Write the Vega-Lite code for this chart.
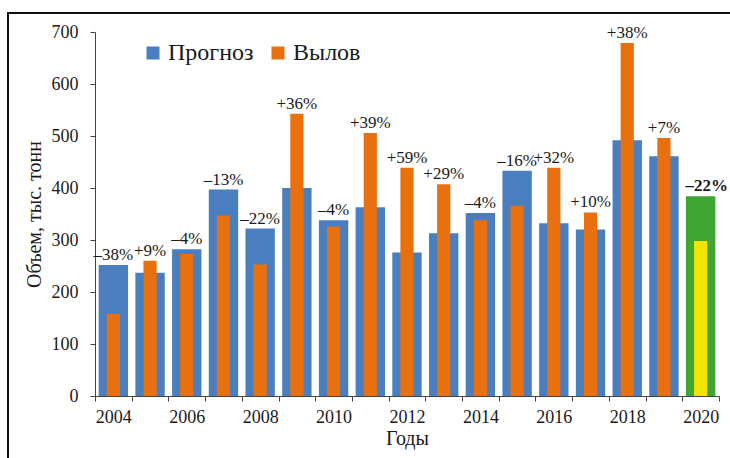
{
  "$schema": "https://vega.github.io/schema/vega-lite/v6.json",
  "autosize": {"type": "none"},
  "padding": {"left": 8, "top": 13, "right": 0, "bottom": 0},
  "width": 732,
  "height": 460,
  "background": "white",
  "config": {
    "font": "Liberation Serif",
    "view": {"stroke": "#111", "strokeWidth": 2, "fill": "white"},
    "axis": {"labelFont": "Liberation Serif", "titleFont": "Liberation Serif", "labelColor": "#1a1a1a", "titleColor": "#1a1a1a", "domainColor": "#444", "tickColor": "#444", "grid": false}
  },
  "data": {
    "values": [
      {"year": "2004", "Прогноз": 252, "Вылов": 158, "label": "–38%"},
      {"year": "2005", "Прогноз": 237, "Вылов": 260, "label": "+9%"},
      {"year": "2006", "Прогноз": 282, "Вылов": 273, "label": "–4%"},
      {"year": "2007", "Прогноз": 397, "Вылов": 347, "label": "–13%"},
      {"year": "2008", "Прогноз": 322, "Вылов": 253, "label": "–22%"},
      {"year": "2009", "Прогноз": 400, "Вылов": 543, "label": "+36%"},
      {"year": "2010", "Прогноз": 338, "Вылов": 326, "label": "–4%"},
      {"year": "2011", "Прогноз": 363, "Вылов": 506, "label": "+39%"},
      {"year": "2012", "Прогноз": 276, "Вылов": 439, "label": "+59%"},
      {"year": "2013", "Прогноз": 313, "Вылов": 407, "label": "+29%"},
      {"year": "2014", "Прогноз": 352, "Вылов": 338, "label": "–4%"},
      {"year": "2015", "Прогноз": 433, "Вылов": 366, "label": "–16%"},
      {"year": "2016", "Прогноз": 332, "Вылов": 439, "label": "+32%"},
      {"year": "2017", "Прогноз": 320, "Вылов": 353, "label": "+10%"},
      {"year": "2018", "Прогноз": 492, "Вылов": 679, "label": "+38%"},
      {"year": "2019", "Прогноз": 461, "Вылов": 496, "label": "+7%"},
      {"year": "2020", "Прогноз": 384, "Вылов": 298, "label": "–22%"}
    ]
  },
  "transform": [{"fold": ["Прогноз", "Вылов"], "as": ["series", "value"]}],
  "encoding": {
    "x": {
      "field": "year", "type": "ordinal",
      "scale": {"type": "band", "range": [87, 711], "paddingInner": 0, "paddingOuter": 0},
      "axis": {
        "title": "Годы", "titleFontSize": 20, "titleFontWeight": "normal", "titlePadding": 2,
        "labelFontSize": 18, "labelAngle": 0, "labelPadding": 7,
        "tickBand": "extent", "tickSize": 5, "offset": -77,
        "labelExpr": "parseInt(datum.value) % 2 === 0 ? datum.label : ''"
      }
    }
  },
  "layer": [
    {
      "transform": [{"filter": "datum.series === 'Прогноз'"}],
      "mark": {"type": "bar", "width": {"band": 0.8}},
      "encoding": {
        "y": {
          "field": "value", "type": "quantitative", "title": "Объем, тыс. тонн",
          "scale": {"domain": [0, 700], "range": [383, 19], "nice": false},
          "axis": {
            "title": "Объем, тыс. тонн", "titleFontSize": 20, "titleFontWeight": "normal", "titlePadding": 7,
            "labelFontSize": 18, "labelPadding": 12, "tickSize": 5, "offset": -87,
            "values": [0, 100, 200, 300, 400, 500, 600, 700]
          }
        },
        "color": {
          "condition": {"test": "datum.year === '2020'", "value": "#3fa635"},
          "field": "series", "type": "nominal",
          "scale": {"domain": ["Прогноз", "Вылов"], "range": ["#4a7ebf", "#e8700f"]},
          "legend": {
            "title": null, "orient": "none", "legendX": 133, "legendY": 28, "direction": "horizontal",
            "symbolType": "square", "symbolSize": 169, "symbolStrokeWidth": 0,
            "labelFont": "Liberation Serif", "labelFontSize": 24, "labelColor": "#1a1a1a",
            "labelOffset": 3, "columnPadding": 12, "padding": 0
          }
        }
      }
    },
    {
      "transform": [{"filter": "datum.series === 'Вылов'"}],
      "mark": {"type": "bar", "width": {"band": 0.36}},
      "encoding": {
        "y": {"field": "value", "type": "quantitative", "title": "Объем, тыс. тонн"},
        "color": {
          "condition": {"test": "datum.year === '2020'", "value": "#f2e600"},
          "field": "series", "type": "nominal"
        }
      }
    },
    {
      "transform": [{"filter": "datum.year !== '2020'"}],
      "mark": {"type": "text", "baseline": "alphabetic", "dy": -5, "fontSize": 17, "color": "#1a1a1a", "font": "Liberation Serif"},
      "encoding": {
        "y": {"aggregate": "max", "field": "value", "type": "quantitative", "title": "Объем, тыс. тонн"},
        "text": {"field": "label", "type": "nominal"}
      }
    },
    {
      "transform": [{"filter": "datum.year === '2020'"}],
      "mark": {"type": "text", "baseline": "alphabetic", "dy": -5, "dx": 6, "fontSize": 17, "fontWeight": "bold", "color": "#1a1a1a", "font": "Liberation Serif"},
      "encoding": {
        "y": {"aggregate": "max", "field": "value", "type": "quantitative", "title": "Объем, тыс. тонн"},
        "text": {"field": "label", "type": "nominal"}
      }
    }
  ]
}
